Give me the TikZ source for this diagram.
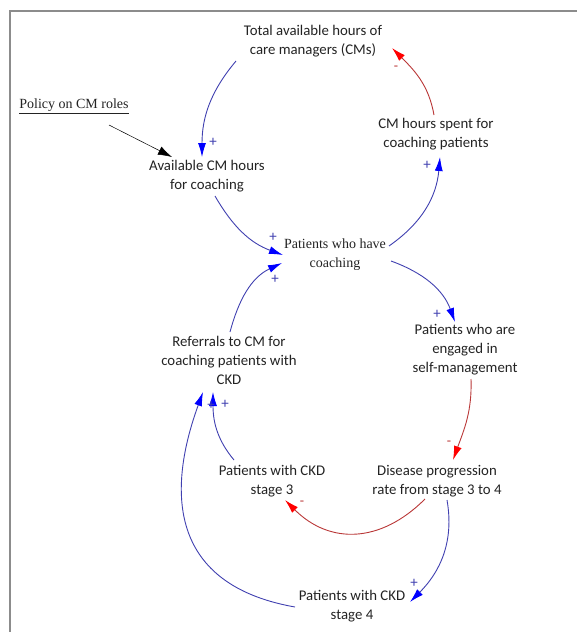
\documentclass[tikz,border=0pt]{standalone}
\usepackage{fontspec}
\setmainfont{Carlito}
\newfontfamily\timesfont{Liberation Serif}
\usepackage{xcolor}
\usetikzlibrary{arrows.meta, positioning, calc}

\definecolor{linkblue}{RGB}{64,64,176}
\definecolor{tipblue}{RGB}{0,0,255}
\definecolor{linkred}{RGB}{185,55,55}
\definecolor{tipred}{RGB}{255,0,0}
\definecolor{framegray}{RGB}{140,140,140}
\definecolor{txt}{RGB}{35,35,35}

\tikzset{
	var/.style={align=center, text=txt, inner sep=1pt, font=\fontsize{14.8}{19}\selectfont},
	tvar/.style={var, font=\timesfont\fontsize{14}{19}\selectfont},
	pos link/.style={linkblue, line width=0.9pt, -{Latex[length=14pt,width=8pt,color=tipblue]}},
	neg link/.style={linkred, line width=0.9pt, -{Latex[length=14pt,width=8pt,color=tipred]}},
	plus/.style={text=linkblue, inner sep=0pt, font=\fontsize{15}{15}\selectfont},
	minus/.style={text=linkred, inner sep=0pt, font=\fontsize{14}{14}\selectfont}
}

\begin{document}
\begin{tikzpicture}[x=1pt,y=1pt]
			
			\useasboundingbox (0,0) rectangle (577,-632);
			% ---------- Frame ----------
			\draw[framegray, line width=2pt] (10,-632) -- (10,-11) -- (577,-11);
			
			% ---------- Variables ----------
			\node[var] (total) at (313,-41) {Total available hours of\\care managers (CMs)};
			\node[tvar] (policy) at (74,-106) {\underline{Policy on CM roles}};
			\node[var] (avail) at (207,-176) {Available CM hours\\for coaching};
			\node[var] (spent) at (436,-134) {CM hours spent for\\coaching patients};
			\node[tvar] (coach) at (335,-255) {Patients who have\\coaching};
			\node[var] (refer) at (229,-360) {Referrals to CM for\\coaching patients with\\CKD};
			\node[var] (engaged) at (465,-350) {Patients who are\\engaged in\\self-management};
			\node[var] (ckd3) at (272,-481) {Patients with CKD\\stage 3};
			\node[var] (disease) at (437,-481) {Disease progression\\rate from stage 3 to 4};
			\node[var] (ckd4) at (352,-606) {Patients with CKD\\stage 4};
			
			% ---------- Upper loop ----------
			\draw[pos link] ($(total)+(-77,-20)$) to[out=230,in=90] ($(avail)+(-5,19)$);
			\draw[neg link] ($(spent)+(-2,19)$) to[out=100,in=-45] ($(total)+(79,-7)$);
			\draw[pos link] ($(avail)+(8,-20)$) to[out=-60,in=160] ($(coach)+(-52,0)$);
			\draw[pos link] ($(coach)+(54,9)$) to[out=35,in=-95] ($(spent)+(4,-23)$);
			\draw[-{Latex[length=14pt,width=9pt]}, black, line width=0.5pt] ($(policy)+(35,-19)$) -- ($(avail)+(-35,19)$);
			
			% ---------- Lower loop ----------
			\draw[pos link] ($(coach)+(56,-6)$) to[out=-20,in=110] ($(engaged)+(-10,28)$);
			\draw[pos link] ($(refer)+(1,28)$) to[out=75,in=205] ($(coach)+(-53,-8)$);
			\draw[neg link] ($(engaged)+(6,-29)$) to[out=-88,in=70] ($(disease)+(16,21)$);
			\draw[neg link, looseness=1.15] ($(disease)+(-12,-18)$) to[out=225,in=-45] ($(ckd3)+(13,-19)$);
			\draw[pos link] ($(disease)+(10,-19)$) to[out=-80,in=45] ($(ckd4)+(58,4)$);
			\draw[pos link] ($(ckd3)+(-38,21)$) to[out=130,in=-90] ($(refer)+(-16,-32)$);
			\draw[pos link, looseness=1.3] ($(ckd4)+(-57,-1)$) to[out=170,in=-110] ($(refer)+(-26,-32)$);
			
			% ---------- Polarities ----------
			\foreach \x/\y [count=\i] in {213/142, 273/237, 427/165, 437/314, 275/279, 414/583, 225/404, 211/405} {
				\node[plus] (plus\i) at (\x,-\y) {+};
			}
			\foreach \x/\y [count=\i] in {396/68, 449/443, 302/503} {
				\node[minus] (minus\i) at (\x,-\y) {-};
			}
			
		\end{tikzpicture}
\end{document}
